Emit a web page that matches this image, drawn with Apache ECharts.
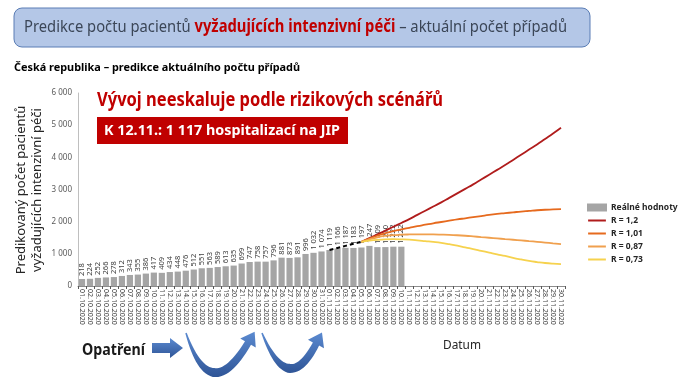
<!DOCTYPE html>
<html><head><meta charset="utf-8">
<script src="https://cdn.jsdelivr.net/npm/echarts@6/dist/echarts.min.js"></script>
<style>html,body{margin:0;padding:0;background:#fff}#c{width:682px;height:384px}</style>
</head><body><div id="c"></div>
<script>
const categories = ['01.10.2020','02.10.2020','03.10.2020','04.10.2020','05.10.2020','06.10.2020','07.10.2020','08.10.2020','09.10.2020','10.10.2020',
'11.10.2020','12.10.2020','13.10.2020','14.10.2020','15.10.2020','16.10.2020','17.10.2020','18.10.2020','19.10.2020','20.10.2020',
'21.10.2020','22.10.2020','23.10.2020','24.10.2020','25.10.2020','26.10.2020','27.10.2020','28.10.2020','29.10.2020','30.10.2020','31.10.2020',
'01.11.2020','02.11.2020','03.11.2020','04.11.2020','05.11.2020','06.11.2020','07.11.2020','08.11.2020','09.11.2020','10.11.2020',
'11.11.2020','12.11.2020','13.11.2020','14.11.2020','15.11.2020','16.11.2020','17.11.2020','18.11.2020','19.11.2020','20.11.2020',
'21.11.2020','22.11.2020','23.11.2020','24.11.2020','25.11.2020','26.11.2020','27.11.2020','28.11.2020','29.11.2020','30.11.2020'];
const realValues = [218,224,252,266,278,312,343,355,386,417,409,434,448,476,512,551,563,589,613,635,
699,747,758,757,796,881,873,891,996,1032,1074,1119,1166,1187,1183,1197,1247,1209,1210,1222,1222];
const dashedStart = '01.11.2020';
const dashedValues = [1119,1183,1247,1311,1375];
const scenarioStart = '05.11.2020';
const r120 = [1375,1490,1605,1720,1840,1960,2080,2210,2340,2470,2600,2740,2880,3020,3160,3310,3460,3610,3760,3920,4080,4240,4400,4570,4740,4920];
const r101 = [1375,1470,1565,1640,1705,1760,1810,1860,1905,1950,1990,2030,2070,2105,2140,2175,2210,2240,2265,2290,2315,2335,2355,2370,2380,2390];
const r087 = [1375,1450,1515,1558,1582,1595,1602,1605,1606,1604,1598,1590,1578,1562,1542,1520,1500,1480,1458,1438,1418,1396,1374,1350,1327,1305];
const r073 = [1375,1410,1435,1450,1455,1450,1440,1420,1395,1370,1340,1300,1255,1200,1150,1095,1040,985,935,875,825,780,745,715,695,683];
const yTicks = [0,1000,2000,3000,4000,5000,6000];
const seriesNames = ['Reálné hodnoty','R = 1,2','R = 1,01','R = 0,87','R = 0,73'];

const fmt = v => String(v).replace(/\B(?=(\d{3})+(?!\d))/g, ' ');
const pad = (start, arr) => new Array(categories.indexOf(start)).fill(null).concat(arr);

const cv = document.createElement('canvas').getContext('2d');
function mw(text, font){ cv.font = font; return cv.measureText(text).width; }
function T(text, x, y, font, fill, width, extra){
  const s = width ? width / mw(text, font) : 1;
  return Object.assign({type:'text', x:x, y:y, scaleX:s, z:10,
    style:{text:text, font:font, fill:fill, textAlign:'left', textVerticalAlign:'middle', align:'left', verticalAlign:'middle'}}, extra||{});
}
function crescent(p0,p1,p2,w0,wm,w1,hw,hl){
  const L=[],R=[];const N=30;
  for(let i=0;i<=N;i++){
    const t=i/N;
    const x=(1-t)*(1-t)*p0[0]+2*(1-t)*t*p1[0]+t*t*p2[0];
    const y=(1-t)*(1-t)*p0[1]+2*(1-t)*t*p1[1]+t*t*p2[1];
    let dx=2*(1-t)*(p1[0]-p0[0])+2*t*(p2[0]-p1[0]);
    let dy=2*(1-t)*(p1[1]-p0[1])+2*t*(p2[1]-p1[1]);
    const l=Math.hypot(dx,dy);dx/=l;dy/=l;
    const w=(t<0.5? w0+(wm-w0)*(t/0.5) : wm+(w1-wm)*((t-0.5)/0.5))/2;
    L.push([x-dy*w,y+dx*w]);R.push([x+dy*w,y-dx*w]);
    if(i===N){
      L.push([x-dy*hw,y+dx*hw]);
      L.push([x+dx*hl,y+dy*hl]);
      L.push([x+dy*hw,y-dx*hw]);
    }
  }
  return L.concat(R.reverse());
}
const arrowFill = new echarts.graphic.LinearGradient(0,0,0,1,[{offset:0,color:'#5b8ad0'},{offset:1,color:'#2f5597'}]);

const hdrFont='17px "Noto Sans"', hdrBold='bold 17px "Noto Sans"';
const h1='Predikce počtu pacientů ', h2='vyžadujících intenzivní péči', h3=' – aktuální počet případů';
const hw = mw(h1,hdrFont)+mw(h2,hdrBold)+mw(h3,hdrFont);
const hs = 543/hw;
const hx1=24, hx2=hx1+mw(h1,hdrFont)*hs, hx3=hx2+mw(h2,hdrBold)*hs;
const lineIcon = 'path://M0,0H20V0.01H0Z M0,3.5H20V5.5H0Z M0,8.99H20V9H0Z';

const chart = echarts.init(document.getElementById('c'));
chart.setOption({
  animation:false,
  backgroundColor:'#ffffff',
  grid:{left:78,right:117,top:93,bottom:98,containLabel:false},
  legend:{orient:'vertical',left:582,top:198,itemWidth:20,itemHeight:8,itemGap:4,
    textStyle:{fontSize:8.5,fontWeight:'bold',color:'#262626',fontFamily:'"Noto Sans"',padding:[0,0,0,-1]},
    data:[{name:seriesNames[0],icon:'rect'},
      {name:seriesNames[1],icon:lineIcon},{name:seriesNames[2],icon:lineIcon},
      {name:seriesNames[3],icon:lineIcon},{name:seriesNames[4],icon:lineIcon}]},
  xAxis:{type:'category',data:categories,boundaryGap:true,
    axisLine:{lineStyle:{color:'#8c8c8c'}},
    axisTick:{show:true,interval:0,length:3,lineStyle:{color:'#595959'}},
    axisLabel:{interval:0,rotate:-90,fontSize:7,color:'#404040',margin:3,fontFamily:'"Noto Sans"'}},
  yAxis:{type:'value',min:yTicks[0],max:yTicks[yTicks.length-1],interval:1000,
    axisLine:{show:true,lineStyle:{color:'#bfbfbf'}},axisTick:{show:false},splitLine:{show:false},
    axisLabel:{fontSize:8,color:'#595959',margin:6,formatter:fmt,fontFamily:'"Noto Sans"'}},
  series:[
    {name:seriesNames[0],type:'bar',data:realValues,barCategoryGap:'22%',itemStyle:{color:'#a5a5a5'},
      label:{show:true,position:'top',rotate:90,align:'left',verticalAlign:'middle',distance:3,
        fontSize:7.5,color:'#404040',formatter:p=>fmt(p.value),fontFamily:'"Noto Sans"'}},
    {name:'dashed',type:'line',data:pad(dashedStart,dashedValues),symbol:'none',z:5,
      lineStyle:{color:'#000',width:2,type:[4,3]}},
    {name:seriesNames[1],type:'line',data:pad(scenarioStart,r120),symbol:'none',smooth:true,z:6,color:'#b01c1c',itemStyle:{color:'#b01c1c'},lineStyle:{width:1.8,color:'#b01c1c'}},
    {name:seriesNames[2],type:'line',data:pad(scenarioStart,r101),symbol:'none',smooth:true,z:6,color:'#e66a1e',itemStyle:{color:'#e66a1e'},lineStyle:{width:1.8,color:'#e66a1e'}},
    {name:seriesNames[3],type:'line',data:pad(scenarioStart,r087),symbol:'none',smooth:true,z:6,color:'#f0a04e',itemStyle:{color:'#f0a04e'},lineStyle:{width:1.8,color:'#f0a04e'}},
    {name:seriesNames[4],type:'line',data:pad(scenarioStart,r073),symbol:'none',smooth:true,z:6,color:'#f6d24e',itemStyle:{color:'#f6d24e'},lineStyle:{width:1.8,color:'#f6d24e'}}
  ],
  graphic:[
    {type:'rect',shape:{x:14,y:8,width:576,height:39,r:8},style:{fill:'#b4c7e7',stroke:'#5a7db5',lineWidth:1},z:5},
    T(h1,hx1,27,hdrFont,'#3b4657',0,{scaleX:hs}),
    T(h2,hx2,27,hdrBold,'#c00000',0,{scaleX:hs}),
    T(h3,hx3,27,hdrFont,'#3b4657',0,{scaleX:hs}),
    T('Česká republika – predikce aktuálního počtu případů',14,68,'bold 11px "Noto Sans"','#000000',286),
    T('Vývoj neeskaluje podle rizikových scénářů',97,100,'bold 20px "Noto Sans"','#c00000',346),
    {type:'rect',shape:{x:97,y:117,width:251,height:27},style:{fill:'#c00000'},z:5},
    T('K 12.11.: 1 117 hospitalizací na JIP',104,130.5,'bold 15px "Noto Sans"','#ffffff',236),
    {type:'text',x:21,y:190,rotation:Math.PI/2,z:10,style:{text:'Predikovaný počet pacientů',font:'13px "Noto Sans"',fill:'#262626',textAlign:'center',textVerticalAlign:'middle',align:'center',verticalAlign:'middle'}},
    {type:'text',x:37,y:190,rotation:Math.PI/2,z:10,style:{text:'vyžadujících intenzivní péči',font:'13px "Noto Sans"',fill:'#262626',textAlign:'center',textVerticalAlign:'middle',align:'center',verticalAlign:'middle'}},
    T('Datum',443,346,'12px "Noto Sans"','#262626',38),
    T('Opatření',82,350,'bold 16px "Noto Sans"','#1a1a1a',63),
    {type:'polygon',shape:{points:[[152,343],[170,343],[170,338],[183,348],[170,358],[170,353],[152,353]]},style:{fill:arrowFill},z:10},
    {type:'polygon',shape:{points:crescent([186,333],[210,407],[248,343],1.5,9,7,9,13)},style:{fill:arrowFill},z:10},
    {type:'polygon',shape:{points:crescent([262,333],[288,398],[316,344],1.5,9,7,9,13)},style:{fill:arrowFill},z:10}
  ]
});
</script></body></html>
